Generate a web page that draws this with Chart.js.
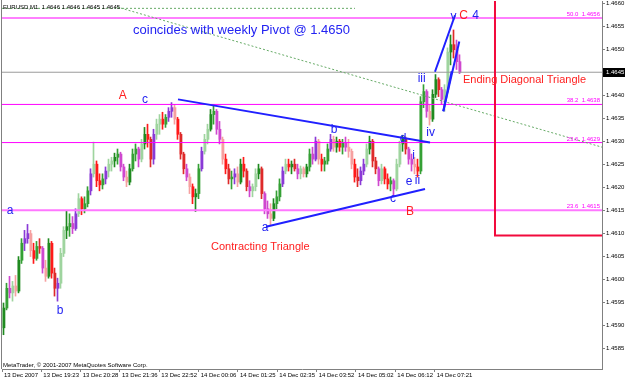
<!DOCTYPE html>
<html>
<head>
<meta charset="utf-8">
<title>EURUSD M1</title>
<script src="https://cdn.jsdelivr.net/npm/chart.js@4.4.1/dist/chart.umd.min.js"></script>
<style>
html,body{margin:0;padding:0;background:#ffffff;overflow:hidden;}
canvas{display:block;}
</style>
</head>
<body>
<canvas id="chart" width="625" height="380"></canvas>
<script>
// ---------------- data ----------------
const chartTitle = "EURUSD,M1  1.4646 1.4646 1.4645 1.4645";
const copyrightText = "MetaTrader, \u00a9 2001-2007 MetaQuotes Software Corp.";
const xTickLabels = ["13 Dec 2007","13 Dec 19:23","13 Dec 20:28","13 Dec 21:36","13 Dec 22:52","14 Dec 00:06","14 Dec 01:25","14 Dec 02:35","14 Dec 03:52","14 Dec 05:02","14 Dec 06:12","14 Dec 07:21"];
const yTickValues = [1.4660,1.4655,1.4650,1.4645,1.4640,1.4635,1.4630,1.4625,1.4620,1.4615,1.4610,1.4605,1.4600,1.4595,1.4590,1.4585];

const opens = [
1.45894,1.45937,1.45980,1.45970,1.45985,1.45974,1.46041,1.46078,1.46088,1.46099,
1.46062,1.46045,1.46071,1.46067,1.46024,1.46006,1.46078,1.46013,1.45980,1.45991,
1.46056,1.46106,1.46114,1.46121,1.46110,1.46142,1.46175,1.46153,1.46164,1.46192,
1.46229,1.46250,1.46214,1.46205,1.46218,1.46235,1.46250,1.46257,1.46265,1.46272,
1.46244,1.46222,1.46211,1.46240,1.46272,1.46283,1.46261,1.46294,1.46315,1.46304,
1.46261,1.46315,1.46337,1.46348,1.46337,1.46352,1.46365,1.46373,1.46348,1.46315,
1.46272,1.46240,1.46222,1.46201,1.46179,1.46186,1.46240,1.46278,1.46304,1.46326,
1.46358,1.46365,1.46326,1.46304,1.46261,1.46240,1.46218,1.46222,1.46229,1.46211,
1.46250,1.46235,1.46201,1.46192,1.46201,1.46229,1.46240,1.46186,1.46153,1.46142,
1.46132,1.46164,1.46179,1.46207,1.46235,1.46250,1.46244,1.46250,1.46240,1.46229,
1.46240,1.46229,1.46244,1.46272,1.46261,1.46300,1.46261,1.46250,1.46257,1.46283,
1.46304,1.46287,1.46300,1.46287,1.46296,1.46287,1.46278,1.46250,1.46222,1.46214,
1.46235,1.46250,1.46283,1.46300,1.46257,1.46240,1.46214,1.46240,1.46218,1.46207,
1.46214,1.46196,1.46250,1.46294,1.46304,1.46283,1.46261,1.46250,1.46244,1.46235,
1.46386,1.46408,1.46365,1.46348,1.46402,1.46434,1.46412,1.46391,1.46412,1.46494,
1.46510,1.46499,1.46473];
const highs = [
1.45948,1.45991,1.46006,1.45995,1.46008,1.46049,1.46088,1.46106,1.46119,1.46106,
1.46078,1.46082,1.46088,1.46071,1.46041,1.46088,1.46082,1.46024,1.46002,1.46067,
1.46114,1.46149,1.46142,1.46136,1.46153,1.46186,1.46179,1.46179,1.46201,1.46240,
1.46298,1.46257,1.46229,1.46229,1.46244,1.46261,1.46265,1.46274,1.46283,1.46276,
1.46250,1.46235,1.46250,1.46283,1.46294,1.46287,1.46304,1.46330,1.46337,1.46309,
1.46326,1.46348,1.46358,1.46363,1.46358,1.46373,1.46384,1.46380,1.46352,1.46319,
1.46276,1.46250,1.46229,1.46207,1.46196,1.46250,1.46287,1.46315,1.46337,1.46369,
1.46378,1.46369,1.46343,1.46309,1.46272,1.46250,1.46235,1.46240,1.46244,1.46261,
1.46265,1.46240,1.46214,1.46207,1.46240,1.46250,1.46244,1.46190,1.46170,1.46164,
1.46175,1.46192,1.46218,1.46244,1.46261,1.46261,1.46257,1.46261,1.46250,1.46246,
1.46244,1.46250,1.46283,1.46287,1.46309,1.46304,1.46272,1.46265,1.46294,1.46315,
1.46311,1.46309,1.46304,1.46304,1.46309,1.46304,1.46283,1.46261,1.46240,1.46244,
1.46261,1.46294,1.46311,1.46304,1.46265,1.46244,1.46250,1.46244,1.46229,1.46222,
1.46218,1.46261,1.46300,1.46313,1.46309,1.46287,1.46272,1.46265,1.46261,1.46397,
1.46423,1.46412,1.46380,1.46412,1.46445,1.46438,1.46417,1.46423,1.46503,1.46531,
1.46542,1.46520,1.46488];
const lows = [
1.45879,1.45933,1.45959,1.45952,1.45963,1.45970,1.46034,1.46062,1.46078,1.46049,
1.46034,1.46041,1.46056,1.46013,1.45995,1.46002,1.46002,1.45963,1.45952,1.45980,
1.46049,1.46088,1.46093,1.46099,1.46106,1.46136,1.46140,1.46144,1.46157,1.46183,
1.46222,1.46201,1.46192,1.46196,1.46207,1.46222,1.46235,1.46244,1.46250,1.46235,
1.46214,1.46201,1.46205,1.46235,1.46257,1.46244,1.46255,1.46283,1.46287,1.46244,
1.46250,1.46304,1.46315,1.46326,1.46330,1.46343,1.46352,1.46337,1.46304,1.46261,
1.46229,1.46214,1.46186,1.46164,1.46147,1.46175,1.46235,1.46272,1.46294,1.46322,
1.46337,1.46315,1.46294,1.46250,1.46229,1.46207,1.46196,1.46207,1.46201,1.46207,
1.46222,1.46192,1.46179,1.46179,1.46192,1.46218,1.46175,1.46142,1.46132,1.46116,
1.46127,1.46153,1.46170,1.46201,1.46229,1.46235,1.46229,1.46235,1.46218,1.46218,
1.46222,1.46222,1.46235,1.46250,1.46257,1.46250,1.46235,1.46235,1.46250,1.46278,
1.46278,1.46276,1.46278,1.46272,1.46278,1.46265,1.46240,1.46211,1.46201,1.46205,
1.46227,1.46244,1.46272,1.46244,1.46229,1.46203,1.46207,1.46207,1.46196,1.46192,
1.46183,1.46192,1.46244,1.46278,1.46272,1.46250,1.46235,1.46229,1.46222,1.46229,
1.46373,1.46352,1.46335,1.46343,1.46395,1.46397,1.46380,1.46365,1.46408,1.46466,
1.46481,1.46456,1.46447];
const closes = [
1.45937,1.45980,1.45970,1.45985,1.45974,1.46041,1.46078,1.46088,1.46099,1.46062,
1.46045,1.46071,1.46067,1.46024,1.46006,1.46078,1.46013,1.45980,1.45991,1.46056,
1.46106,1.46114,1.46121,1.46110,1.46142,1.46175,1.46153,1.46164,1.46192,1.46229,
1.46250,1.46214,1.46205,1.46218,1.46235,1.46250,1.46257,1.46265,1.46272,1.46244,
1.46222,1.46211,1.46240,1.46272,1.46283,1.46261,1.46294,1.46315,1.46304,1.46261,
1.46315,1.46337,1.46348,1.46337,1.46352,1.46365,1.46373,1.46348,1.46315,1.46272,
1.46240,1.46222,1.46201,1.46179,1.46186,1.46240,1.46278,1.46304,1.46326,1.46358,
1.46365,1.46326,1.46304,1.46261,1.46240,1.46218,1.46222,1.46229,1.46211,1.46250,
1.46235,1.46201,1.46192,1.46201,1.46229,1.46240,1.46186,1.46153,1.46142,1.46132,
1.46164,1.46179,1.46207,1.46235,1.46250,1.46244,1.46250,1.46240,1.46229,1.46240,
1.46229,1.46244,1.46272,1.46261,1.46300,1.46261,1.46250,1.46257,1.46283,1.46304,
1.46287,1.46300,1.46287,1.46296,1.46287,1.46278,1.46250,1.46222,1.46214,1.46235,
1.46250,1.46283,1.46300,1.46257,1.46240,1.46214,1.46240,1.46218,1.46207,1.46214,
1.46196,1.46250,1.46294,1.46304,1.46283,1.46261,1.46250,1.46244,1.46235,1.46386,
1.46408,1.46365,1.46348,1.46402,1.46434,1.46412,1.46391,1.46412,1.46494,1.46510,
1.46499,1.46473,1.46450];

const bidPrice = 1.4645;
const fibPrices = [1.46568, 1.4638, 1.46297, 1.4615];
const fibLabels = ["50.0  1.4656", "38.2  1.4638", "23.6  1.4629", "23.6  1.4615"];

// drawn objects, in (bar index, price)
const triangleUpper = [{x:58.17, y:1.46391}, {x:142.17, y:1.46297}];
const triangleLower = [{x:87.5, y:1.46114}, {x:140.5, y:1.46196}];
const diagonalUpper = [{x:143.83, y:1.46451}, {x:150.5, y:1.46574}];
const diagonalLower = [{x:146.6, y:1.46365}, {x:151.93, y:1.46517}];
const diagonalInner = [{x:146.6, y:1.46365}, {x:149.4, y:1.46452}];
const dottedFlat = [{x:-0.5, y:1.46589}, {x:117.17, y:1.46589}];
const dottedSlope = [{x:37.83, y:1.46592}, {x:199.5, y:1.46287}];
const redBox = [{x:163.83, y:1.4663}, {x:163.83, y:1.46095}, {x:202, y:1.46095}];

const blue = '#2323f2', red = '#ff2020';
const waveNotes = [
  {text:'A', bar:39.73, price:1.46398, color:red},
  {text:'c', bar:47.17, price:1.46391, color:blue},
  {text:'a', bar:2.17, price:1.46149, color:blue},
  {text:'b', bar:18.83, price:1.45931, color:blue},
  {text:'a', bar:87.17, price:1.46112, color:blue},
  {text:'b', bar:110.17, price:1.46326, color:blue},
  {text:'d', bar:133.17, price:1.46306, color:blue},
  {text:'c', bar:129.83, price:1.46175, color:blue},
  {text:'B', bar:135.5, price:1.46147, color:red},
  {text:'e', bar:135.17, price:1.46211, color:blue},
  {text:'ii', bar:138.0, price:1.46214, color:blue},
  {text:'i', bar:136.67, price:1.46269, color:blue},
  {text:'iii', bar:139.4, price:1.46436, color:blue},
  {text:'iv', bar:142.4, price:1.46319, color:blue},
  {text:'v', bar:150.0, price:1.46571, color:blue},
  {text:'C', bar:153.33, price:1.46574, color:red},
  {text:'4', bar:157.33, price:1.46574, color:blue}
];
const phraseNotes = [
  {text:'coincides with weekly Pivot @ 1.4650', bar:43.17, price:1.46542, color:blue, size:13},
  {text:'Ending Diagonal Triangle', bar:153.17, price:1.46434, color:red, size:11},
  {text:'Contracting Triangle', bar:69.17, price:1.46069, color:red, size:11}
];

// ---------------- layout helpers ----------------
function hasFont(f){
  const c = document.createElement('canvas').getContext('2d');
  const s = 'abcdefghijklm 1234567890';
  c.font = '20px monospace'; const a = c.measureText(s).width;
  c.font = '20px "' + f + '", monospace'; const b = c.measureText(s).width;
  return Math.abs(a - b) > 0.5;
}
const narrow = hasFont('Liberation Sans Narrow');
const smallFamily = narrow ? '"Liberation Sans Narrow", "Liberation Sans", sans-serif' : '"Liberation Sans", Arial, sans-serif';
const smallSize = narrow ? 7 : 6;
const mainFamily = '"Liberation Sans", Arial, sans-serif';

const X_MIN = -0.5, X_MAX = 199.5;
const Y_MIN = 1.458044, Y_MAX = 1.466050;
const xTickStep = 13.11;

const bullCols = ['#1f8a1f','#9fd49f','#8a3ad6','#35a035'];
const bearCols = ['#ff1a1a','#f6a0a0','#cf47cf','#de2a2a'];
const candleColors = closes.map((c, i) => {
  const k = (i * 3 + Math.floor(i / 4)) % 4;
  return c >= opens[i] ? bullCols[k] : bearCols[k];
});

const wickData = lows.map((l, i) => ({x: i, y: [Math.min(l, opens[i], closes[i]), Math.max(highs[i], opens[i], closes[i])]}));
const bodyData = opens.map((o, i) => ({x: i + 1/6, y: [Math.min(o, closes[i]), Math.max(o, closes[i])]}));

function flat(p){ return [{x:X_MIN, y:p}, {x:X_MAX, y:p}]; }
function lineDs(data, color, width, order, dash){
  return {type:'line', data, borderColor:color, borderWidth:width, pointRadius:0, fill:false,
          tension:0, order, borderDash: dash || [], parsing:true};
}

const fibStyles = [
  {color:'#ff00ff', w:1}, {color:'#ff00ff', w:1}, {color:'#ff00ff', w:1}, {color:'#ff77ff', w:2}
];

const datasets = [
  {type:'bar', data:wickData, backgroundColor:candleColors, barThickness:1, grouped:false, order:9, borderWidth:0},
  {type:'bar', data:bodyData, backgroundColor:candleColors, barThickness:2, grouped:false, order:8, borderWidth:0, minBarLength:1},
  ...fibPrices.map((p, k) => lineDs(flat(p), fibStyles[k].color, fibStyles[k].w, 6)),
  lineDs(flat(bidPrice), '#9a9a9a', 1, 6),
  lineDs(dottedFlat, '#66aa66', 1, 5, [2,2]),
  lineDs(dottedSlope, '#66aa66', 1, 5, [2,2]),
  lineDs(redBox, '#f20a3c', 2, 4),
  lineDs(triangleUpper, '#2020ff', 2, 1),
  lineDs(triangleLower, '#2020ff', 2, 1),
  lineDs(diagonalUpper, '#2020ff', 2, 1),
  lineDs(diagonalLower, '#2020ff', 2, 1),
  lineDs(diagonalInner, '#2020ff', 2, 1)
];

const overlay = {
  id: 'overlay',
  afterDatasetsDraw(chart){
    const {ctx, chartArea:a, scales:{x, y}} = chart;
    ctx.save();
    ctx.beginPath(); ctx.rect(a.left, a.top, a.right - a.left, a.bottom - a.top); ctx.clip();
    // fibonacci captions
    ctx.font = smallSize + 'px ' + smallFamily;
    ctx.fillStyle = '#ff00ff'; ctx.textAlign = 'right'; ctx.textBaseline = 'alphabetic';
    fibPrices.forEach((p, k) => ctx.fillText(fibLabels[k], a.right - 2, y.getPixelForValue(p) - 2));
    // wave letters
    ctx.textAlign = 'center'; ctx.textBaseline = 'middle';
    waveNotes.forEach(n => {
      ctx.font = '12px ' + mainFamily; ctx.fillStyle = n.color;
      ctx.fillText(n.text, x.getPixelForValue(n.bar), y.getPixelForValue(n.price));
    });
    // phrases
    ctx.textAlign = 'left';
    phraseNotes.forEach(n => {
      ctx.font = n.size + 'px ' + mainFamily; ctx.fillStyle = n.color;
      ctx.fillText(n.text, x.getPixelForValue(n.bar), y.getPixelForValue(n.price));
    });
    // title & copyright
    ctx.font = smallSize + 'px ' + smallFamily; ctx.fillStyle = '#000';
    ctx.fillText(chartTitle, a.left + 1, a.top + 6);
    ctx.fillText(copyrightText, a.left + 1, a.bottom - 4);
    ctx.restore();
  },
  afterDraw(chart){
    const {ctx, chartArea:a, scales:{y}} = chart;
    ctx.save();
    ctx.strokeStyle = '#808080'; ctx.lineWidth = 1;
    ctx.beginPath(); ctx.moveTo(a.left - 0.5, 0); ctx.lineTo(a.left - 0.5, a.bottom); ctx.stroke();
    const py = y.getPixelForValue(bidPrice);
    ctx.fillStyle = '#000'; ctx.fillRect(a.right + 1, Math.round(py) - 4, 625 - a.right - 1, 9);
    ctx.fillStyle = '#fff'; ctx.font = smallSize + 'px ' + smallFamily;
    ctx.textAlign = 'left'; ctx.textBaseline = 'middle';
    ctx.fillText(bidPrice.toFixed(4), a.right + 4, Math.round(py) + 0.5);
    ctx.restore();
  }
};

new Chart(document.getElementById('chart'), {
  type: 'bar',
  data: { datasets },
  options: {
    responsive: false,
    animation: false,
    devicePixelRatio: 1,
    events: [],
    layout: { padding: { left: 2, top: 1, right: 0, bottom: 0 } },
    plugins: { legend: { display: false }, tooltip: { enabled: false } },
    scales: {
      x: {
        type: 'linear', position: 'bottom', min: X_MIN, max: X_MAX, offset: false, bounds: 'data',
        grid: { drawOnChartArea: false, drawTicks: true, tickLength: 3, color: '#808080', offset: false },
        border: { display: true, color: '#808080', width: 1 },
        ticks: { autoSkip: false, maxRotation: 0, minRotation: 0, align: 'start', labelOffset: 2, padding: 0,
                 color: '#000', font: { family: smallFamily, size: smallSize },
                 callback: (v, i) => xTickLabels[i] },
        afterBuildTicks: s => { s.ticks = xTickLabels.map((_, k) => ({ value: X_MIN + k * xTickStep })); },
        afterFit: s => { s.height = 11; s.paddingLeft = 0; s.paddingRight = 0; }
      },
      y: {
        type: 'linear', position: 'right', min: Y_MIN, max: Y_MAX, beginAtZero: false, bounds: 'data',
        grid: { drawOnChartArea: false, drawTicks: true, tickLength: 3, color: '#808080' },
        border: { display: true, color: '#808080', width: 1 },
        ticks: { autoSkip: false, padding: 1, color: '#000', font: { family: smallFamily, size: smallSize },
                 callback: v => Number(v).toFixed(4) },
        afterBuildTicks: s => { s.ticks = yTickValues.map(v => ({ value: v })); },
        afterFit: s => { s.width = 23; s.paddingTop = 0; s.paddingBottom = 0; }
      }
    }
  },
  plugins: [overlay]
});
</script>
</body>
</html>
